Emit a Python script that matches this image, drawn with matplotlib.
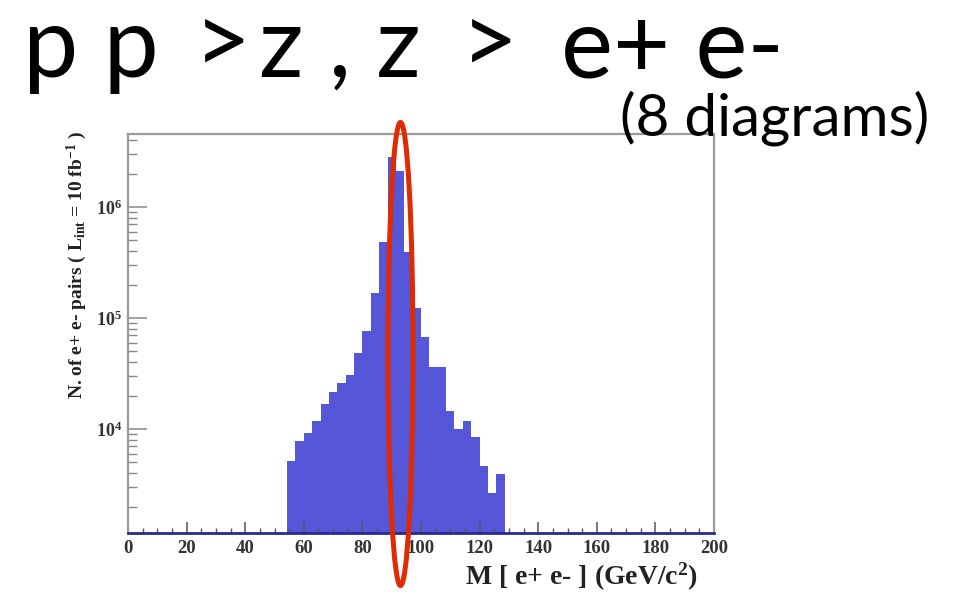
import numpy as np
import matplotlib
matplotlib.use("Agg")
import matplotlib.pyplot as plt
from matplotlib.patches import Ellipse
from matplotlib.ticker import FixedLocator, MultipleLocator, LogLocator, NullFormatter, FixedFormatter

# ---------------- data ----------------
n_bins = 70
x_min, x_max = 0, 200
first_bin = 19
counts_nonzero = [5200, 7850, 9260, 11880, 16720, 21550, 25800, 30970, 48100, 76900,
                  166900, 486600, 2840000, 2120000, 395700, 122200, 67800, 36500, 36200,
                  14620, 9940, 11880, 8530, 4640, 2635, 3930]
counts = [0] * first_bin + counts_nonzero + [0] * (n_bins - first_bin - len(counts_nonzero))
edges = np.linspace(x_min, x_max, n_bins + 1)

x_ticks = [0, 20, 40, 60, 80, 100, 120, 140, 160, 180, 200]
x_tick_labels = [str(t) for t in x_ticks]
y_ticks = [1e4, 1e5, 1e6]
y_tick_labels = [r"$\mathbf{10^{4}}$", r"$\mathbf{10^{5}}$", r"$\mathbf{10^{6}}$"]
y_range = (1156, 4.55e6)

title_pieces = ["p p", ">", "z , z", ">", "e+ e-"]
subtitle_text = "(8 diagrams)"
x_label = r"M [ e+ e- ] (GeV/c$^{\mathbf{2}}$)"
y_label = r"N. of e+ e- pairs ( L$_{\mathbf{int}}$ = 10 fb$^{\mathbf{-1}}$ )"

# ---------------- style ----------------
plt.rcParams["mathtext.fontset"] = "custom"
plt.rcParams["mathtext.rm"] = "Liberation Serif:bold"
plt.rcParams["mathtext.bf"] = "Liberation Serif:bold"
plt.rcParams["mathtext.it"] = "Liberation Serif:bold:italic"

W, H = 957, 597
fig = plt.figure(figsize=(W / 100, H / 100), dpi=100)
fig.patch.set_facecolor("white")

L, R, T, B = 128, 714, 134, 533
ax = fig.add_axes([L / W, 1 - B / H, (R - L) / W, (B - T) / H])
ax.set_yscale("log")
ax.set_xlim(x_min, x_max)
ax.set_ylim(*y_range)

draw_vals = np.maximum(np.array(counts, dtype=float), 1.0)
ax.stairs(draw_vals, edges, baseline=1.0, fill=True, color="#5656d8", lw=0)

for s in ["left", "top", "right"]:
    ax.spines[s].set_color("#9a9a9a")
    ax.spines[s].set_linewidth(1.6)
ax.spines["bottom"].set_color("#2a2a8c")
ax.spines["bottom"].set_linewidth(2)

ax.xaxis.set_major_locator(FixedLocator(x_ticks))
ax.xaxis.set_major_formatter(FixedFormatter(x_tick_labels))
ax.xaxis.set_minor_locator(MultipleLocator(5))
ax.yaxis.set_major_locator(FixedLocator(y_ticks))
ax.yaxis.set_major_formatter(FixedFormatter(y_tick_labels))
ax.yaxis.set_minor_locator(LogLocator(base=10, subs=range(2, 10)))
ax.yaxis.set_minor_formatter(NullFormatter())

ax.tick_params(axis="x", which="major", direction="in", length=8, width=1.1, color="#555566",
               pad=5, labelsize=13.5, labelcolor="#333333", top=False)
ax.tick_params(axis="x", which="minor", direction="in", length=3.8, width=1.0, color="#555566", top=False)
ax.tick_params(axis="y", which="major", direction="in", length=13.5, width=1.1, color="#888888",
               pad=4, labelsize=13, labelcolor="#333333", right=False)
ax.tick_params(axis="y", which="minor", direction="in", length=6.5, width=1.0, color="#888888", right=False)
for lab in ax.get_xticklabels():
    lab.set_fontfamily("Liberation Serif")
    lab.set_fontweight("bold")

fig.text(698 / W, 1 - 577 / H, x_label, ha="right", va="center", fontsize=20,
         family="Liberation Serif", fontweight="bold", color="#222222")
fig.text(77 / W, 1 - 265 / H, y_label, ha="center", va="center", rotation=90, fontsize=14,
         family="Liberation Serif", fontweight="bold", color="#222222")

# title in pieces (the ">" signs sit slightly raised in the original)
piece_x = [23, 194, 259, 461, 561]
piece_base = [77, 74, 77, 74, 77]
for txt, px, pb in zip(title_pieces, piece_x, piece_base):
    fig.text(px / W, 1 - pb / H, txt, ha="left", va="baseline", fontsize=71,
             family="Lato", color="black")
fig.text(929 / W, 1 - 136 / H, subtitle_text, ha="right", va="baseline", fontsize=42,
         family="Lato", color="black")

ov = fig.add_axes([0, 0, 1, 1])
ov.set_xlim(0, W)
ov.set_ylim(H, 0)
ov.axis("off")
ov.patch.set_alpha(0)
ov.add_patch(Ellipse((400.5, 354), 25, 463, fill=False, ec="#e02a00", lw=3.6))

fig.savefig("out.png", dpi=100)
